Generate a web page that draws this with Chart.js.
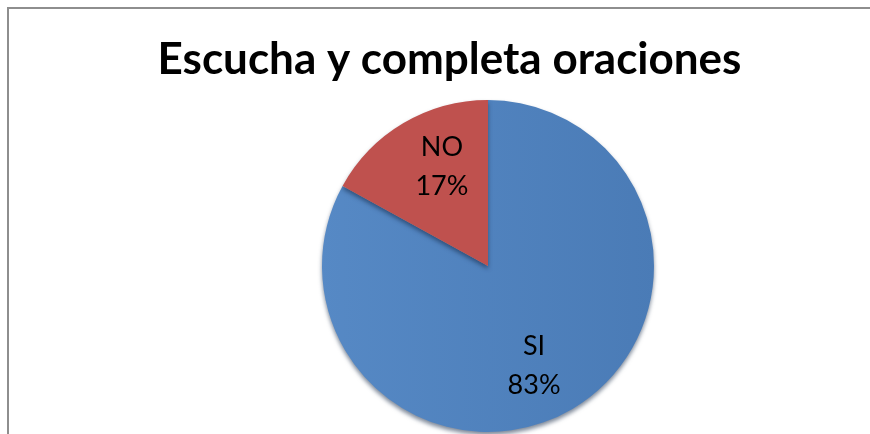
<!DOCTYPE html>
<html>
<head>
<meta charset="utf-8">
<script src="https://cdn.jsdelivr.net/npm/chart.js@4.4.0/dist/chart.umd.min.js"></script>
<style>
  html, body { margin: 0; padding: 0; background: #fff; overflow: hidden; }
  #marco { position: absolute; left: 7px; top: 7px; width: 900px; height: 500px;
           border-top: 2px solid #8e8e8e; border-left: 2px solid #8e8e8e; }
  #grafico { position: absolute; left: 0; top: 0; }
</style>
</head>
<body>
<div id="marco"></div>
<canvas id="grafico" width="870" height="434"></canvas>
<script>
// Datos de la gráfica
var titulo = "Escucha y completa oraciones";
var categorias = ["SI", "NO"];
var porcentajes = [83, 17];
var colores = ["#4f81bd", "#c0504d"];

document.addEventListener("DOMContentLoaded", function() {
  var graficoCanvas = document.getElementById("grafico");

  // degradado suave para la porción azul
  function relleno(context) {
    var chart = context.chart;
    var area = chart.chartArea;
    if (!area) return colores[context.dataIndex];
    if (context.dataIndex === 0) {
      var g = chart.ctx.createLinearGradient(318, 0, 658, 0);
      g.addColorStop(0, "#5689c5");
      g.addColorStop(1, "#4a7bb6");
      return g;
    }
    return "#bf514e";
  }

  // mover el título a su sitio (no centrado sobre el pastel)
  var posTitulo = {
    id: "posTitulo",
    afterLayout: function(chart) {
      if (chart.titleBlock) {
        chart.titleBlock.left = 29;
        chart.titleBlock.right = 870;
      }
    }
  };

  // sombra y etiquetas de las porciones
  var etiquetas = {
    id: "etiquetas",
    beforeDatasetsDraw: function(chart) {
      var ctx = chart.ctx;
      ctx.save();
      ctx.shadowColor = "rgba(20, 40, 70, 0.55)";
      ctx.shadowOffsetY = 3;
      ctx.shadowBlur = 4;
    },
    afterDatasetsDraw: function(chart) {
      var ctx = chart.ctx;
      ctx.restore();
      var meta = chart.getDatasetMeta(0);
      ctx.save();
      ctx.font = "27px Lato";
      ctx.fillStyle = "#000";
      ctx.textAlign = "center";
      ctx.textBaseline = "middle";
      meta.data.forEach(function(arc, i) {
        var p = arc.getProps(["x", "y", "startAngle", "endAngle", "outerRadius"], true);
        var mid = (p.startAngle + p.endAngle) / 2 + 0.1;
        var r = p.outerRadius * 0.66;
        var x = p.x + Math.cos(mid) * r;
        var y = p.y + Math.sin(mid) * r;
        ctx.fillText(categorias[i], x, y - 19);
        ctx.fillText(porcentajes[i] + "%", x, y + 20);
      });
      ctx.restore();
    }
  };

  new Chart(graficoCanvas, {
    type: "pie",
    data: {
      labels: categorias,
      datasets: [{
        data: porcentajes,
        backgroundColor: relleno,
        borderWidth: 0
      }]
    },
    options: {
      responsive: false,
      animation: false,
      layout: { padding: { left: 106, top: 0, right: 0, bottom: 2 } },
      plugins: {
        legend: { display: false },
        tooltip: { enabled: false },
        title: {
          display: true,
          text: titulo,
          color: "#000",
          font: { family: "Lato", size: 44, weight: "bold", lineHeight: 1.2 },
          padding: { top: 33, bottom: 14.2 }
        }
      }
    },
    plugins: [posTitulo, etiquetas]
  });
});
</script>
</body>
</html>
